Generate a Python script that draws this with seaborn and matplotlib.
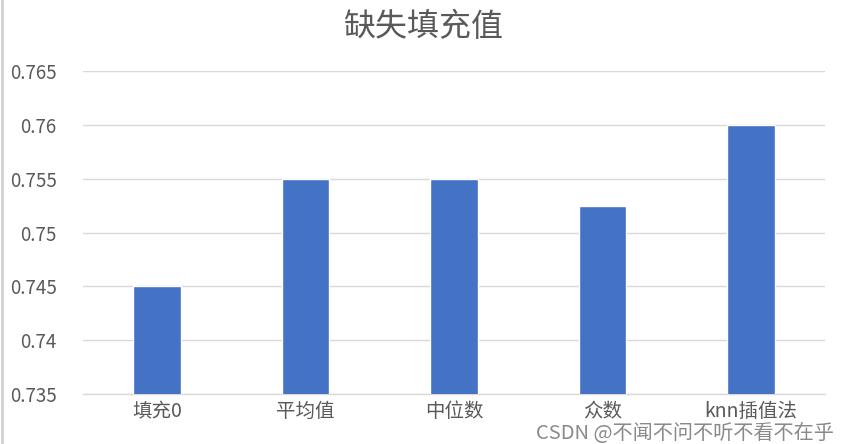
import matplotlib
matplotlib.use("Agg")
import matplotlib.pyplot as plt
import matplotlib.ticker as mticker
import seaborn as sns
import pandas as pd

# data
methods = ["填充0", "平均值", "中位数", "众数", "knn插值法"]
scores = [0.745, 0.755, 0.755, 0.7525, 0.760]
yticks = [0.735, 0.74, 0.745, 0.75, 0.755, 0.76, 0.765]

df = pd.DataFrame({"method": methods, "score": scores})

sns.set_theme(style="white")
plt.rcParams["font.family"] = ["Noto Sans CJK SC", "DejaVu Sans"]

fig = plt.figure(figsize=(8.47, 4.44), dpi=100)
ax = fig.add_axes([0.098, 0.1126, 0.876, 0.7274])

sns.barplot(data=df, x="method", y="score", color="#4472C4", saturation=1,
            width=0.32, ax=ax, zorder=3)

ax.set_ylim(0.735, 0.765)
ax.set_xlim(-0.5, 4.5)
ax.set_yticks(yticks)
ax.yaxis.set_major_formatter(mticker.FormatStrFormatter("%g"))
ax.grid(axis="y", color="#d9d9d9", linewidth=1, zorder=0)
ax.set_axisbelow(True)
for s in ["top", "right", "left"]:
    ax.spines[s].set_visible(False)
ax.spines["bottom"].set_color("#d9d9d9")
ax.spines["bottom"].set_linewidth(1)

ax.tick_params(axis="y", length=0, pad=19, labelsize=13.5, labelcolor="#595959")
ax.tick_params(axis="x", length=0, pad=5, labelsize=14, labelcolor="#595959")
ax.set_xlabel("")
ax.set_ylabel("")

fig.suptitle("缺失填充值", x=0.5, y=0.975, fontsize=23, color="#595959")

# watermark from the source image
fig.text(0.984, 0.0, "CSDN @不闻不问不听不看不在乎", ha="right", va="bottom",
         fontsize=14.5, color="#8a8a8a")

# thin gray border on the left edge of the original screenshot
fig.add_artist(plt.Line2D([0.002, 0.002], [0, 1], color="#d0d0d0", linewidth=2,
                          transform=fig.transFigure))

fig.savefig("out.png", dpi=100)
